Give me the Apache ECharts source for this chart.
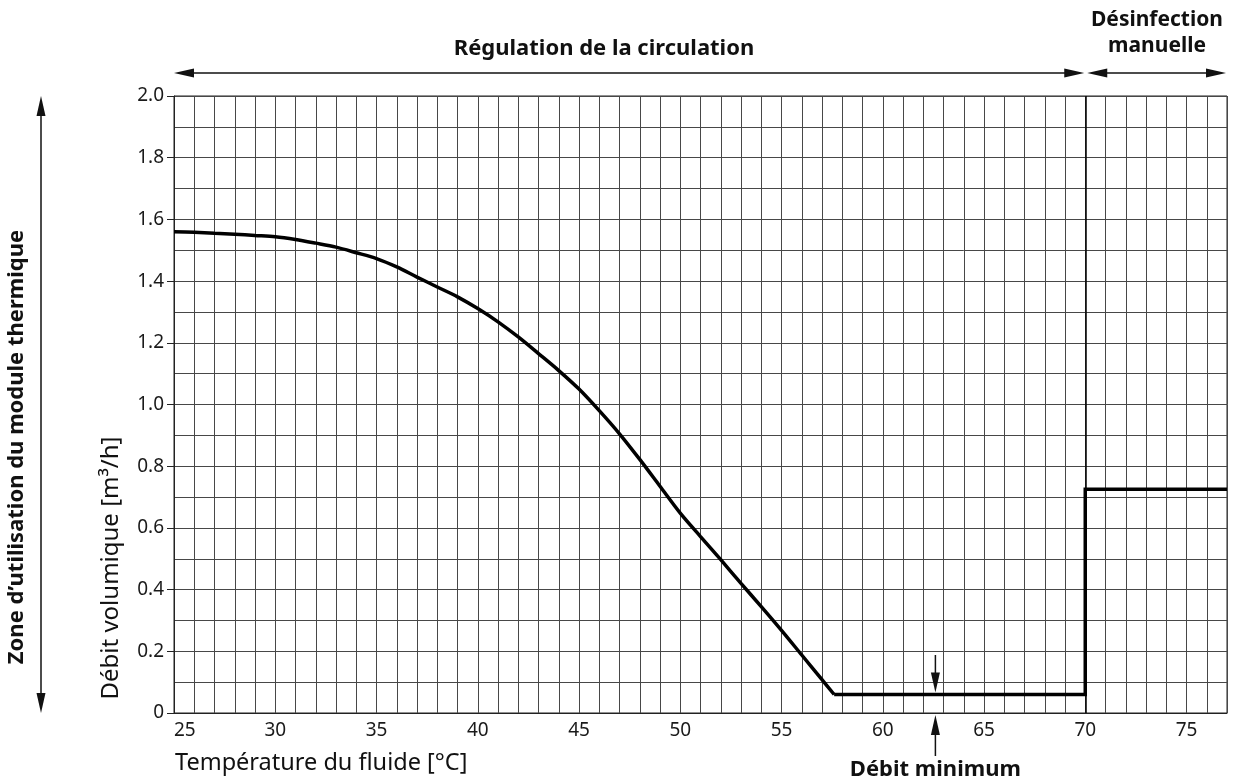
<!DOCTYPE html>
<html><head><meta charset="utf-8">
<script src="https://cdn.jsdelivr.net/npm/echarts@6/dist/echarts.min.js"></script>
<style>html,body{margin:0;padding:0;background:#fff}#c{width:1234px;height:782px}</style>
</head><body><div id="c"></div>
<script>
// --- data ---
const temperatures = [25,26,27,28,29,30,31,32,33,34,35,36,37,38,39,40,41,42,43,44,45,46,47,48,49,50,51,52,53,54,55,56,57,57.6];
const flowRates    = [1.56,1.558,1.555,1.552,1.548,1.544,1.535,1.523,1.51,1.492,1.473,1.446,1.413,1.381,1.349,1.311,1.268,1.219,1.165,1.11,1.05,0.98,0.905,0.822,0.735,0.648,0.572,0.497,0.42,0.345,0.268,0.188,0.108,0.06];
const stepTemps = [57.6, 70, 70, 77];
const stepFlows = [0.06, 0.06, 0.725, 0.725];
const xTickLabels = [25,30,35,40,45,50,55,60,65,70,75];
const yTickLabels = ['0','0.2','0.4','0.6','0.8','1.0','1.2','1.4','1.6','1.8','2.0'];
const regulationRange = [25, 70];
const disinfectionRange = [70, 77];
const minFlowTemp = 62.6;
const minFlowValue = 0.06;

const chart = echarts.init(document.getElementById('c'), null, {renderer:'canvas'});
const FONT = 'Noto Sans';
const gridColor = '#474747';

chart.setOption({
  animation: false,
  backgroundColor: '#fff',
  grid: {left:174, right:7, top:96, bottom:69, show:true, borderColor:'#222', borderWidth:1},
  xAxis: {
    type:'value', min:25, max:77, interval:1,
    axisLine:{show:true, lineStyle:{color:'#222', width:1}},
    axisTick:{show:false},
    splitLine:{show:true, lineStyle:{color:gridColor, width:1}},
    axisLabel:{
      margin:8, color:'#1a1a1a', fontFamily:FONT, fontSize:19, alignMinLabel:'left',
      formatter: v => xTickLabels.includes(v) ? String(v) : ''
    }
  },
  yAxis: {
    type:'value', min:0, max:2, interval:0.2,
    axisLine:{show:true, lineStyle:{color:'#222', width:1}},
    axisTick:{show:true, length:7, lineStyle:{color:'#222', width:1}},
    splitLine:{show:true, lineStyle:{color:gridColor, width:1}},
    minorTick:{show:false, splitNumber:2},
    minorSplitLine:{show:true, lineStyle:{color:gridColor, width:1}},
    axisLabel:{
      margin:10, color:'#1a1a1a', fontFamily:FONT, fontSize:19,
      formatter: v => yTickLabels[Math.round(v/0.2)]
    }
  },
  series: [
    {type:'line', data: temperatures.map((t,i)=>[t, flowRates[i]]), smooth:0.3, symbol:'none',
     lineStyle:{color:'#000', width:3.5}, z:5},
    {type:'line', data: stepTemps.map((t,i)=>[t, stepFlows[i]]), symbol:'none',
     lineStyle:{color:'#000', width:3.5, join:'miter'}, z:5,
     markLine:{symbol:'none', silent:true, label:{show:false},
       lineStyle:{color:'#000', width:1.5, type:'solid'}, data:[{xAxis:disinfectionRange[0]}]}}
  ]
});

function px(x, y){ return chart.convertToPixel({gridIndex:0}, [x, y]); }
function head(tx, ty, dx, dy){
  const L = 20, w = 4.5;
  const bx = tx - dx*L, by = ty - dy*L;
  const nx = -dy, ny = dx;
  return {type:'polygon', shape:{points:[[tx,ty],[bx+nx*w, by+ny*w],[bx-nx*w, by-ny*w]]},
          style:{fill:'#111'}, z:20};
}
function line(x1,y1,x2,y2){
  return {type:'line', shape:{x1,y1,x2,y2}, style:{stroke:'#111', lineWidth:1.5}, z:20};
}
function doubleArrowH(xa, xb, y){
  return [line(xa+10, y, xb-10, y), head(xa, y, -1, 0), head(xb, y, 1, 0)];
}
function doubleArrowV(x, ya, yb){
  return [line(x, ya+10, x, yb-10), head(x, ya, 0, -1), head(x, yb, 0, 1)];
}
function text(str, x, y, size, bold, rot, align){
  return {type:'text', x, y, rotation: rot||0, z:30,
    style:{text:str, x:0, y:0, align:align||'center', verticalAlign:'middle',
      fontFamily:FONT, fontSize:size, fontWeight: bold?'bold':'normal', fill:'#111', lineHeight:26}};
}

const g = [];
const arrowY = 73;
const r0 = px(regulationRange[0], 0)[0], r1 = px(regulationRange[1], 0)[0];
const d1 = px(disinfectionRange[1], 0)[0];
g.push(...doubleArrowH(r0, r1 - 1, arrowY));
g.push(...doubleArrowH(r1 + 2, d1 - 1, arrowY));
const yTop = px(25, 2)[1], yBot = px(25, 0)[1];
g.push(...doubleArrowV(41, yTop, yBot));
const mx = px(minFlowTemp, minFlowValue)[0], my = px(minFlowTemp, minFlowValue)[1];
g.push(line(mx, 655, mx, my - 2 - 18), head(mx, my - 2, 0, 1));
g.push(line(mx, 756, mx, yBot + 2 + 18), head(mx, yBot + 2, 0, -1));

g.push(text('Régulation de la circulation', 604, 49, 22, true));
g.push(text('Désinfection\nmanuelle', 1157, 33, 21, true));
g.push(text('Zone d\u2019utilisation du module thermique', 17, 447, 22, true, Math.PI/2));
g.push(text('Débit volumique [m³/h]', 111, 568, 24, false, Math.PI/2));
g.push(text('Température du fluide [°C]', 175, 763, 23.5, false, 0, 'left'));
g.push(text('Débit minimum', mx, 770, 22, true));

chart.setOption({graphic: g});
</script></body></html>
